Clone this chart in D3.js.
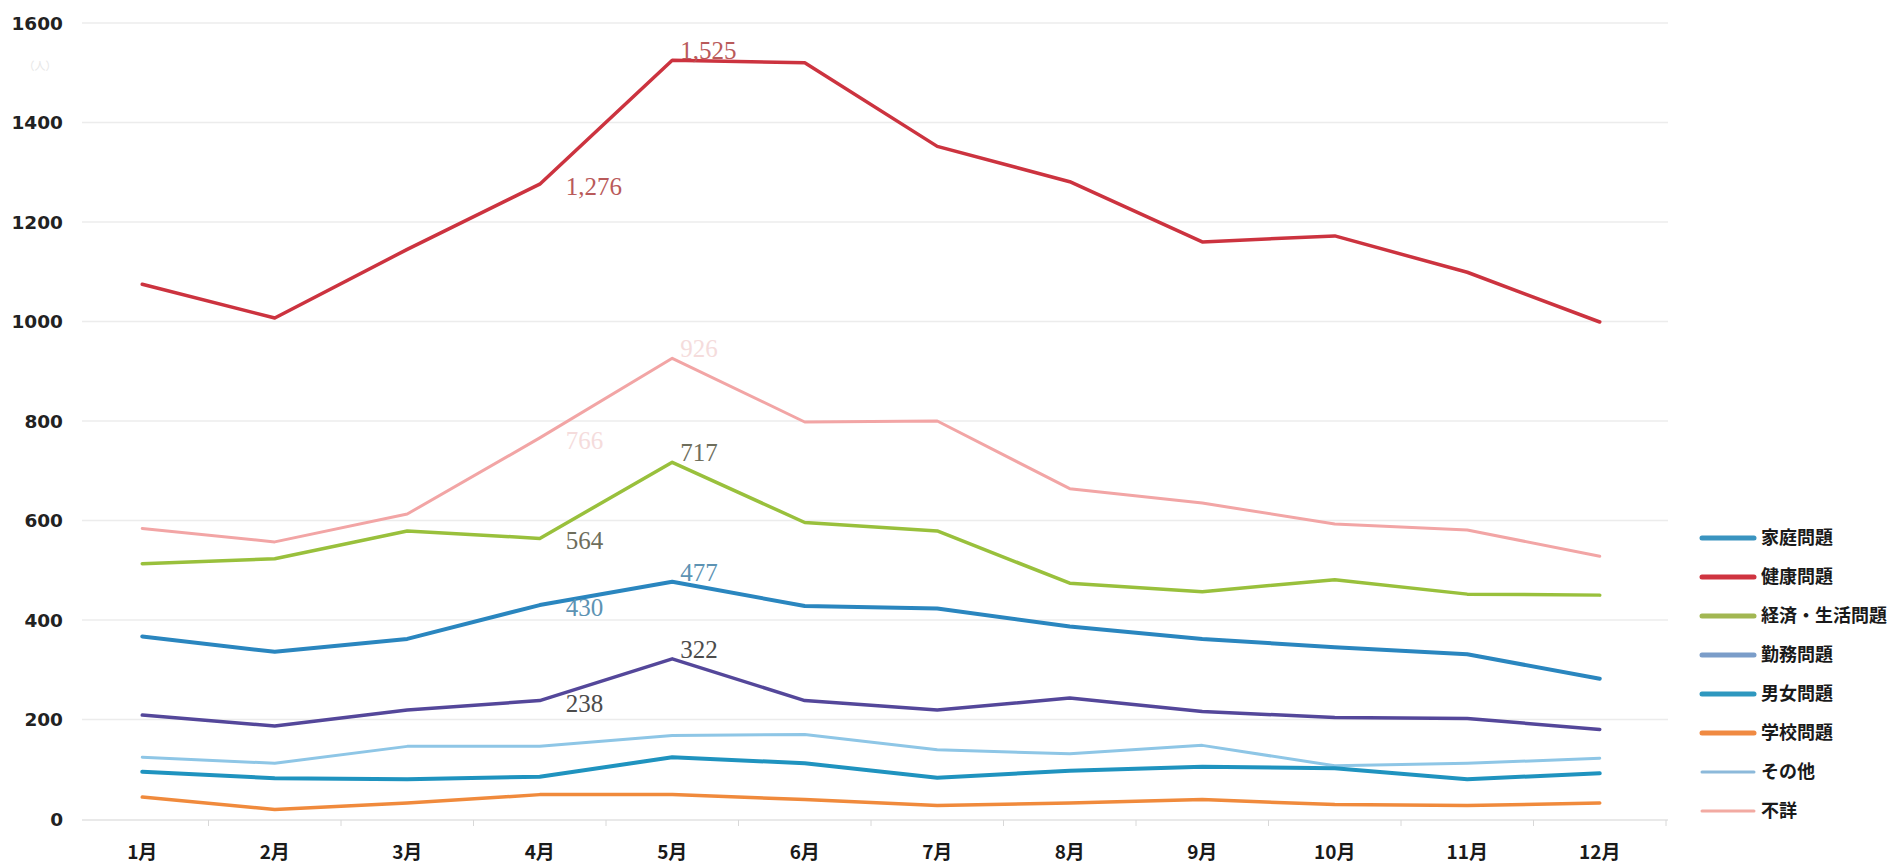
<!DOCTYPE html>
<html>
<head>
<meta charset="utf-8">
<script src="https://cdn.jsdelivr.net/npm/d3@7"></script>
<style>
  body { margin: 0; background: #fff; }
  svg { display: block; }
</style>
</head>
<body>
<div class="chart"></div>
<script>
// values (monthly counts)
var months = ["1月", "2月", "3月", "4月", "5月", "6月", "7月", "8月", "9月", "10月", "11月", "12月"];
var seriesNames = ["家庭問題", "健康問題", "経済・生活問題", "勤務問題", "男女問題", "学校問題", "その他", "不詳"];

var katei   = [367, 336, 362, 430, 477, 428, 423, 387, 362, 345, 331, 282];
var kenko   = [1075, 1007, 1145, 1276, 1525, 1520, 1352, 1281, 1160, 1172, 1099, 999];
var keizai  = [513, 523, 579, 564, 717, 596, 579, 474, 457, 481, 452, 450];
var kinmu   = [209, 187, 219, 238, 322, 238, 219, 243, 216, 204, 202, 180];
var danjo   = [95, 82, 80, 85, 124, 112, 83, 97, 105, 102, 80, 92];
var gakko   = [44, 19, 32, 49, 49, 39, 27, 32, 39, 29, 27, 32];
var sonota  = [124, 112, 146, 146, 168, 170, 139, 131, 148, 107, 112, 122];
var fusho   = [584, 557, 613, 766, 926, 798, 800, 664, 635, 593, 581, 528];

var yTicks = [0, 200, 400, 600, 800, 1000, 1200, 1400, 1600];
var labelMonths = ["4月", "5月"];   // months carrying value labels
var labelled = ["健康問題", "経済・生活問題", "家庭問題", "勤務問題", "不詳"];

var allValues = [katei, kenko, keizai, kinmu, danjo, gakko, sonota, fusho];

var lineColors   = ["#2a86bf", "#cc333f", "#99c03c", "#54479a", "#1f93bf", "#f08a3c", "#8ec6e6", "#f2a5a5"];
var legendColors = ["#3a94c0", "#cf3440", "#a2b752", "#7b9dc9", "#2e98bf", "#f08a42", "#8cb9da", "#f2aaa2"];
var lineWidths   = [4, 3.5, 3.5, 3.5, 4, 3.5, 3, 3];
var labelColors  = ["#5d93b3", "#b95a5a", "#6e6e5c", "#4c4c4c", "#000", "#000", "#000", "#f5dcdc"];

var width = 1894, height = 864;

var svg = d3.select(".chart").append("svg")
    .attr("width", width)
    .attr("height", height);

var x = d3.scalePoint().domain(months).range([76, 1666]).padding(0.5);
var y = d3.scaleLinear().domain([0, 1600]).range([819, 23]);

// horizontal grid
svg.append("g")
    .selectAll("line")
    .data(yTicks.slice(1))
    .enter().append("line")
    .attr("x1", 82).attr("x2", 1668)
    .attr("y1", function (d) { return y(d); })
    .attr("y2", function (d) { return y(d); })
    .attr("stroke", "#ececec")
    .attr("stroke-width", 1.5);

// y labels
svg.append("g")
    .selectAll("text")
    .data(yTicks)
    .enter().append("text")
    .attr("x", 63)
    .attr("y", function (d) { return y(d); })
    .attr("dy", "0.36em")
    .attr("text-anchor", "end")
    .attr("font-family", "DejaVu Sans")
    .attr("font-weight", "bold")
    .attr("font-size", 18.5)
    .attr("fill", "#222")
    .text(function (d) { return d; });

svg.append("text")
    .attr("x", 40).attr("y", 70)
    .attr("text-anchor", "middle")
    .attr("font-family", "Noto Sans CJK JP")
    .attr("font-size", 11)
    .attr("fill", "#e6e6e6")
    .text("（人）");

// x axis
var xAxis = svg.append("g");
xAxis.append("line")
    .attr("x1", 82).attr("x2", 1668)
    .attr("y1", 820).attr("y2", 820)
    .attr("stroke", "#e2e2e2")
    .attr("stroke-width", 1.5);
xAxis.selectAll(".tick")
    .data(months)
    .enter().append("line")
    .attr("x1", function (d) { return x(d) + x.step() / 2; })
    .attr("x2", function (d) { return x(d) + x.step() / 2; })
    .attr("y1", 820).attr("y2", 826)
    .attr("stroke", "#d8d8d8");
xAxis.selectAll("text")
    .data(months)
    .enter().append("text")
    .attr("x", function (d) { return x(d); })
    .attr("y", 859)
    .attr("text-anchor", "middle")
    .attr("font-family", "Noto Sans CJK JP")
    .attr("font-weight", "bold")
    .attr("font-size", 19)
    .attr("fill", "#1a1a1a")
    .text(function (d) { return d; });

// lines
var line = d3.line()
    .x(function (d, i) { return x(months[i]); })
    .y(function (d) { return y(d); });

var order = [7, 1, 2, 0, 3, 6, 4, 5];
svg.append("g")
    .selectAll("path")
    .data(order)
    .enter().append("path")
    .attr("d", function (k) { return line(allValues[k]); })
    .attr("fill", "none")
    .attr("stroke", function (k) { return lineColors[k]; })
    .attr("stroke-width", function (k) { return lineWidths[k]; })
    .attr("stroke-linejoin", "round")
    .attr("stroke-linecap", "round");

// value labels
var labels = [];
seriesNames.forEach(function (name, k) {
    if (labelled.indexOf(name) < 0) return;
    labelMonths.forEach(function (m) {
        labels.push({k: k, m: m, v: allValues[k][months.indexOf(m)]});
    });
});

svg.append("g")
    .selectAll("text")
    .data(labels)
    .enter().append("text")
    .attr("x", function (d) { return x(d.m) + (d.m === "4月" ? 26 : 8); })
    .attr("y", function (d) { return y(d.v) + (d.m === "4月" ? 11 : -1); })
    .attr("font-family", "Liberation Serif")
    .attr("font-size", 25)
    .attr("fill", function (d) { return labelColors[d.k]; })
    .text(function (d) { return d3.format(",")(d.v); });

// legend
var legend = svg.append("g")
    .selectAll("g")
    .data(seriesNames)
    .enter().append("g")
    .attr("transform", function (d, i) { return "translate(1700," + (538 + i * 39) + ")"; });

legend.append("line")
    .attr("x1", 2).attr("x2", 54)
    .attr("stroke", function (d, i) { return legendColors[i]; })
    .attr("stroke-width", function (d, i) { return i >= 6 ? 3 : 5; })
    .attr("stroke-linecap", "round");

legend.append("text")
    .attr("x", 61)
    .attr("dy", "0.36em")
    .attr("font-family", "Noto Sans CJK JP")
    .attr("font-weight", "bold")
    .attr("font-size", 18)
    .attr("fill", "#1a1a1a")
    .text(function (d) { return d; });
</script>
</body>
</html>
